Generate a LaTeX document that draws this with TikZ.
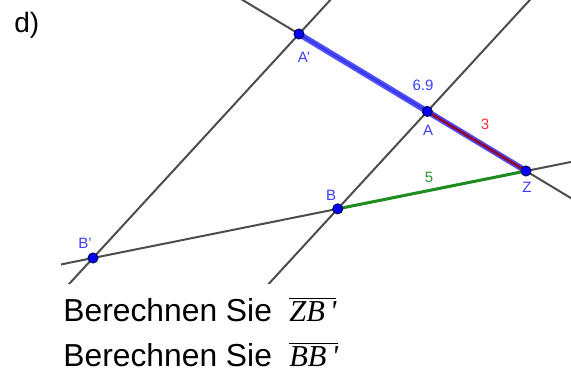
\documentclass[tikz,border=0pt]{standalone}
\usepackage{fontspec}
\setmainfont{Liberation Sans}
\newfontfamily\serifit{Liberation Serif}
\usetikzlibrary{calc,positioning}
\definecolor{gline}{HTML}{4D4D4D}
\definecolor{ptblue}{HTML}{0000FF}
\definecolor{ptrim}{HTML}{00005A}
\definecolor{lblblue}{HTML}{3C3CFF}
\definecolor{segblue}{HTML}{3333FF}
\definecolor{segred}{HTML}{8E0838}
\definecolor{segreen}{HTML}{1E8C1E}
\definecolor{lblred}{HTML}{FF3030}
\definecolor{lblgreen}{HTML}{2E922E}
\newcommand{\pr}{{\char"27}}

\begin{document}
\begin{tikzpicture}[x=0.5pt,y=-0.5pt,
    pt/.style={circle,fill=ptblue,draw=ptrim,line width=0.5pt,inner sep=0pt,minimum size=5pt},
    lbl/.style={font=\fontsize{7.5}{9}\selectfont,text=lblblue,inner sep=0pt},
    txt/.style={font=\fontsize{15.9}{18}\selectfont,inner sep=0pt,anchor=base west},
    seg/.style={font=\fontsize{15.2}{18}\selectfont,inner sep=0pt,anchor=base west},
    helper/.style={gline,line width=1pt}]
  \useasboundingbox (0,0) rectangle (571,374);
  % geometry: Z is the centre of the stretch
  \coordinate (Z) at (526,171);
  \coordinate (Ap) at (299,34);
  \coordinate (Bp) at (93,258);
  \coordinate (A) at ($(Z)!0.4348!(Ap)$);
  \coordinate (B) at ($(Z)!0.4348!(Bp)$);
  \begin{scope}
    \clip (61,0) rectangle (571,283);
    \draw[helper] ($(Z)!-1!(Ap)$) -- ($(Z)!2!(Ap)$);
    \draw[helper] ($(Z)!-1!(Bp)$) -- ($(Z)!2!(Bp)$);
    \draw[helper] ($(A)!-3!(B)$) -- ($(A)!4!(B)$);
    \draw[helper] ($(Ap)!-2!(Bp)$) -- ($(Ap)!3!(Bp)$);
  \end{scope}
  \draw[segblue,opacity=0.85,line width=3pt] (Ap) -- (Z);
  \draw[segred,line width=1.4pt] (A) -- (Z);
  \draw[segreen,line width=1.5pt] (B) -- (Z);
  \node[pt] (pZ) at (Z) {};
  \node[pt] (pA) at (A) {};
  \node[pt] (pAp) at (Ap) {};
  \node[pt] (pB) at (B) {};
  \node[pt] (pBp) at (Bp) {};
  \node[lbl] (lAp) at (304,57) {A\pr};
  \node[lbl] (lA) at (428,130) {A};
  \node[lbl] (lZ) at (527,187) {Z};
  \node[lbl] (lB) at (331,195) {B};
  \node[lbl] (lBp) at (85,243) {B\pr};
  \node[lbl] (lAZ) at (423,85) {6.9};
  \node[lbl,text=lblred] (lZA) at (485,124) {3};
  \node[lbl,text=lblgreen] (lZB) at (429,177) {5};
  \node[txt,font=\fontsize{14}{16}\selectfont] (part) at (14,33) {d)};
  \node[txt] (q1) at (63,321) {Berechnen Sie};
  \node[txt] (q2) at (63,366.5) {Berechnen Sie};
  \node[seg] (s1) at (289,321) {$\overline{\hbox{\serifit\itshape ZB\,\pr}}$};
  \node[seg] (s2) at (289,366.5) {$\overline{\hbox{\serifit\itshape BB\,\pr}}$};
\end{tikzpicture}
\end{document}
